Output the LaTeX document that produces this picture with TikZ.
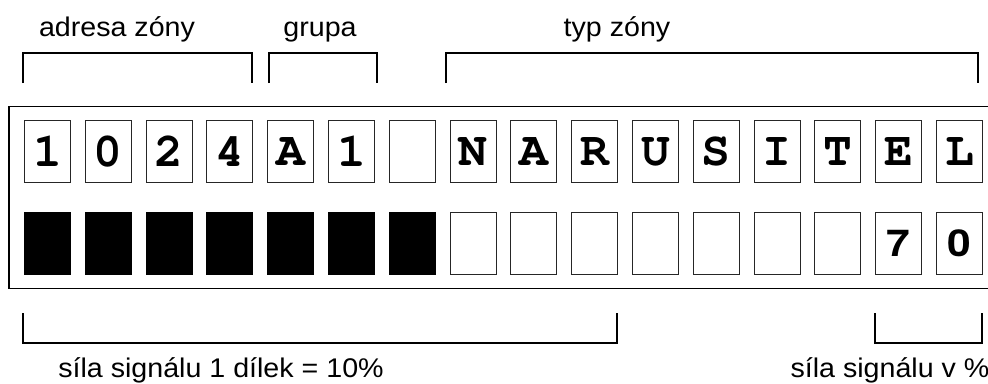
\documentclass[tikz,border=0pt]{standalone}
\usepackage{fontspec}
\setmainfont{Liberation Sans}
\newfontfamily\labelfont{Liberation Sans}[FakeStretch=1.06]
\newfontfamily\digitfont{TeX Gyre Heros}[FakeStretch=1.15]
\newfontfamily\cellfont{texgyrecursor-bold.otf}
\begin{document}
\begin{tikzpicture}[x=1pt,y=-1pt,
  cell/.style={draw=black!85, line width=0.9pt, fill=white,
    minimum width=46pt, minimum height=62pt, inner sep=0pt, anchor=north west,
    font=\cellfont\fontsize{48}{48}\selectfont},
  filled/.style={cell, fill=black, draw=black},
  numcell/.style={cell, font=\digitfont\bfseries\fontsize{37}{37}\selectfont},
  bracket/.style={line width=2pt},
  frame/.style={line width=1.4pt},
  lbl/.style={font=\labelfont\fontsize{27}{27}\selectfont, inner sep=0pt, anchor=base}
]
\useasboundingbox (0,0) rectangle (988,383);

% display frame, open to the right
\draw[frame] (988,106.5) -- (9,106.5) -- (9,288.5) -- (988,288.5);

% upper row of character cells
\foreach \ch [count=\i] in {1,0,2,4,A,1,{},N,A,R,U,S,I,T,E,L}
  \node[cell] (t\i) at ({24+60.8*(\i-1)},120) {\ch};

% lower row: signal bar and percentage
\foreach \i in {1,...,7}
  \node[filled] (b\i) at ({24+60.8*(\i-1)},212) {};
\foreach \i in {8,...,14}
  \node[cell] (b\i) at ({24+60.8*(\i-1)},212) {};
\node[numcell] (b15) at ({24+60.8*14},212) {7};
\node[numcell] (b16) at ({24+60.8*15},212) {0};

% brackets above
\draw[bracket] (23,83) -- (23,53) -- (252,53) -- (252,83);
\draw[bracket] (269,83) -- (269,53) -- (377,53) -- (377,83);
\draw[bracket] (446,83) -- (446,53) -- (978,53) -- (978,83);

% brackets below
\draw[bracket] (23,313) -- (23,343) -- (617,343) -- (617,313);
\draw[bracket] (875,313) -- (875,343) -- (982,343) -- (982,313);

% labels
\node[lbl] (ladr) at (117,36) {adresa zóny};
\node[lbl] (lgrp) at (320,36) {grupa};
\node[lbl] (ltyp) at (617,36) {typ zóny};
\node[lbl] (lbar) at (221,377) {síla signálu 1 dílek = 10\%};
\node[lbl] (lpct) at (890,377) {síla signálu v \%};
\end{tikzpicture}
\end{document}
